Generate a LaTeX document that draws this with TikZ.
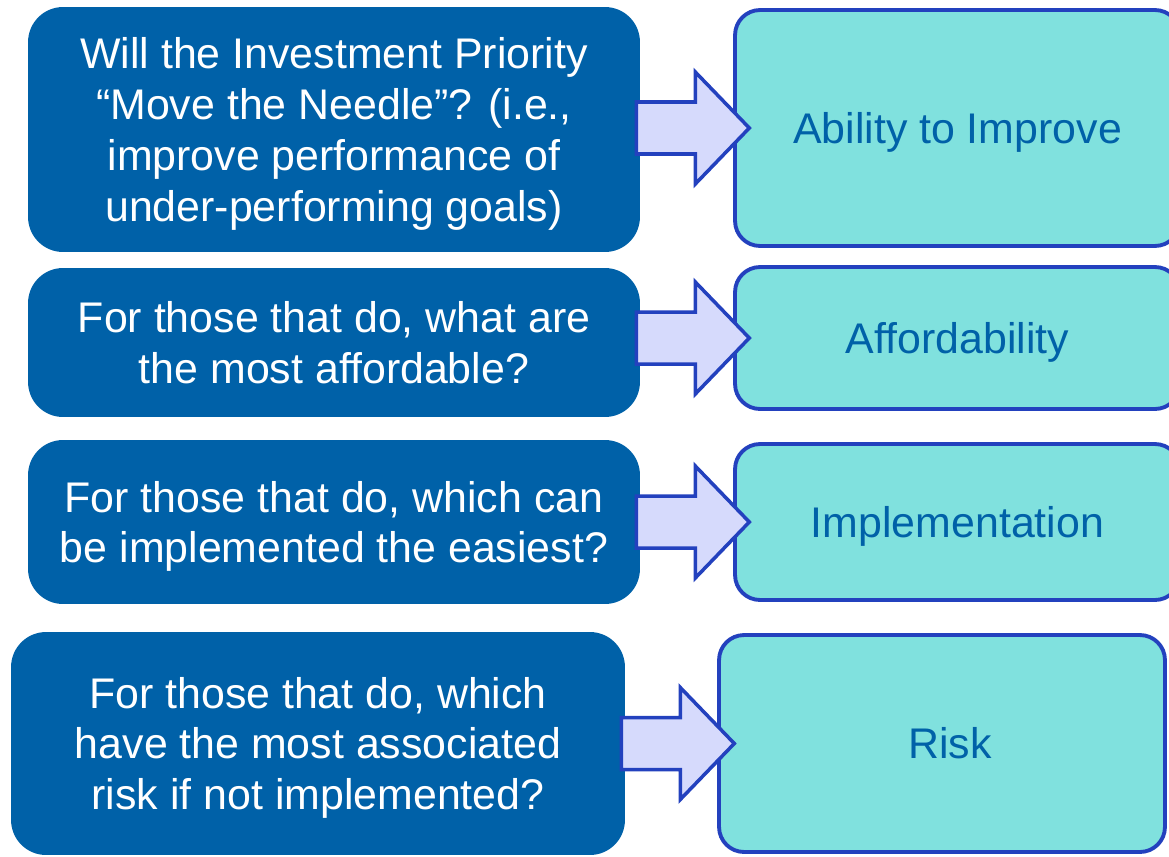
\documentclass[tikz,border=0pt]{standalone}
\usepackage{fontspec}
\setmainfont{Liberation Sans}
\usepackage{xcolor}
\definecolor{qBlue}{HTML}{0061A8}
\definecolor{cTeal}{HTML}{80E1DE}
\definecolor{edgeBlue}{HTML}{2341BE}
\definecolor{arrowFill}{HTML}{D6DAFC}
\usepackage{tikz}
\usetikzlibrary{calc}
\newcommand{\topln}{\rule{0pt}{23.6pt}}     % fixed height of first line
\newcommand{\botln}{\rule[-6pt]{0pt}{6pt}}  % fixed depth of last line
\tikzset{
    boxfont/.style={font=\fontsize{24.4}{28.9}\selectfont},
    qbox/.style={boxfont,fill=qBlue,text=white,align=center,inner sep=0pt,
                 rounded corners=0.7cm,minimum width=12.24cm},
    cbox/.style={boxfont,fill=cTeal,draw=edgeBlue,line width=2.2pt,text=qBlue,
                 align=center,inner sep=0pt,rounded corners=0.5cm,minimum width=8.9cm},
    blockArrow/.style={fill=arrowFill,draw=edgeBlue,line width=2pt,line join=miter}
}

\begin{document}
\begin{tikzpicture}[x=0.02cm, y=0.02cm]
  \useasboundingbox (0,0) rectangle (1169,-856);

  % question boxes (left)
  \node[qbox,minimum height=4.9cm]  (q1) at (334,-129.5)
    {\topln Will the Investment Priority\\“Move the Needle”? (i.e.,\\improve performance of\\under-performing goals)\botln};
  \node[qbox,minimum height=2.98cm] (q2) at (334,-342.5)
    {\topln For those that do, what are\\the most affordable?\botln};
  \node[qbox,minimum height=3.28cm] (q3) at (334,-522)
    {\topln For those that do, which can\\be implemented the easiest?\botln};
  \node[qbox,minimum height=4.46cm,minimum width=12.28cm] (q4) at (318,-743.5)
    {\topln For those that do, which\\have the most associated\\risk if not implemented?\botln};

  % criteria boxes (right)
  \node[cbox,minimum height=4.72cm] (c1) at (957.5,-128) {\topln Ability to Improve\botln};
  \node[cbox,minimum height=2.84cm] (c2) at (957.5,-338) {\topln Affordability\botln};
  \node[cbox,minimum height=3.12cm] (c3) at (957.5,-522) {\topln Implementation\botln};
  \node[cbox,minimum height=4.34cm,minimum width=8.92cm] (c4) at (942,-743.5)
    {\hspace*{0.32cm}\topln Risk\botln};

  % block arrows from question to criterion
  \foreach \i in {1,...,4} {
    \coordinate (a\i) at ($(q\i.east |- c\i.west)+(-4,0)$);
    \draw[blockArrow] (a\i) ++(0,26) -- ++(59,0) -- ++(0,30) -- ++(54,-56)
      -- ++(-54,-56) -- ++(0,30) -- ++(-59,0) -- cycle;
  }
\end{tikzpicture}
\end{document}
